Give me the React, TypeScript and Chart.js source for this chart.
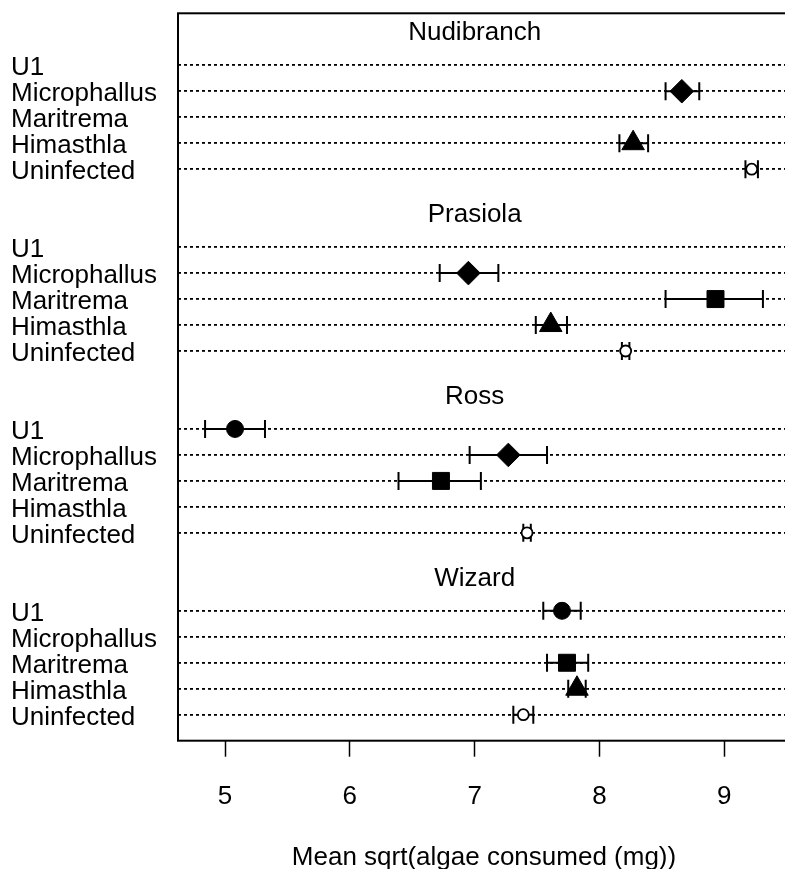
import { useEffect, useRef } from 'react';
import { Chart, registerables } from 'chart.js';

Chart.register(...registerables);

const sites = ['Nudibranch', 'Prasiola', 'Ross', 'Wizard'];
const infections = ['U1', 'Microphallus', 'Maritrema', 'Himasthla', 'Uninfected'];

// Mean and error-bar limits for each infection (same order as `infections`)
const nudibranchMean = [null, 8.66, null, 8.27, 9.22];
const nudibranchLow = [null, 8.53, null, 8.16, 9.17];
const nudibranchHigh = [null, 8.8, null, 8.39, 9.27];

const prasiolaMean = [null, 6.95, 8.93, 7.61, 8.21];
const prasiolaLow = [null, 6.72, 8.53, 7.49, 8.18];
const prasiolaHigh = [null, 7.19, 9.31, 7.74, 8.24];

const rossMean = [5.08, 7.27, 6.73, null, 7.42];
const rossLow = [4.84, 6.96, 6.39, null, 7.39];
const rossHigh = [5.32, 7.58, 7.05, null, 7.45];

const wizardMean = [7.7, null, 7.74, 7.82, 7.39];
const wizardLow = [7.55, null, 7.58, 7.75, 7.31];
const wizardHigh = [7.85, null, 7.91, 7.89, 7.47];

const xTicks = [5, 6, 7, 8, 9];
const xTitle = 'Mean sqrt(algae consumed (mg))';

const groupMeans = [nudibranchMean, prasiolaMean, rossMean, wizardMean];
const groupLows = [nudibranchLow, prasiolaLow, rossLow, wizardLow];
const groupHighs = [nudibranchHigh, prasiolaHigh, rossHigh, wizardHigh];

const FONT = '"Liberation Sans", Arial, Helvetica, sans-serif';
const GROUP_SPAN = infections.length + 2;
const Y_MAX = sites.length * GROUP_SPAN;

// dotchart layout: groups stacked top-down, one spare row + a title row between groups
const rowOf = (g: number, i: number) =>
  (sites.length - 1 - g) * GROUP_SPAN + (infections.length - i);
const titleRowOf = (g: number) => (sites.length - 1 - g) * GROUP_SPAN + infections.length + 1.25;

const rowValues: number[] = [];
const rowLabels = new Map<number, string>();
sites.forEach((_, g) =>
  infections.forEach((name, i) => {
    rowValues.push(rowOf(g, i));
    rowLabels.set(rowOf(g, i), name);
  })
);

// one marker style per infection
const markerStyles = [
  { pointStyle: 'circle', radius: 8.5, fill: '#000' },
  { pointStyle: 'rectRot', radius: 11.8, fill: '#000' },
  { pointStyle: 'rect', radius: 12, fill: '#000' },
  { pointStyle: 'triangle', radius: 13, fill: '#000' },
  { pointStyle: 'circle', radius: 5.5, fill: '#fff' },
];

const datasets = infections.map((name, i) => ({
  label: name,
  data: sites
    .map((_, g) => ({ x: groupMeans[g][i], y: rowOf(g, i) }))
    .filter((p) => p.x !== null),
  showLine: false,
  pointStyle: markerStyles[i].pointStyle,
  pointRadius: markerStyles[i].radius,
  pointBackgroundColor: markerStyles[i].fill,
  pointBorderColor: '#000',
  pointBorderWidth: i === 4 ? 1.8 : 1,
}));

const decorations = {
  id: 'dotchartDecorations',
  beforeDatasetsDraw(chart: any) {
    const { ctx, chartArea: a, scales } = chart;
    const x = scales.x;
    const y = scales.y;
    ctx.save();
    // plot frame
    ctx.strokeStyle = '#000';
    ctx.lineWidth = 2;
    ctx.setLineDash([]);
    ctx.strokeRect(a.left, a.top, a.right - a.left, a.bottom - a.top);

    // group titles
    ctx.fillStyle = '#000';
    ctx.font = `26px ${FONT}`;
    ctx.textAlign = 'center';
    ctx.textBaseline = 'middle';
    sites.forEach((s, g) => ctx.fillText(s, x.getPixelForValue(7), y.getPixelForValue(titleRowOf(g))));

    // error bars with end caps
    ctx.lineWidth = 2;
    const cap = 9;
    sites.forEach((_, g) =>
      infections.forEach((__, i) => {
        const lo = groupLows[g][i];
        const hi = groupHighs[g][i];
        if (lo === null || hi === null) return;
        const py = y.getPixelForValue(rowOf(g, i));
        const p0 = x.getPixelForValue(lo);
        const p1 = x.getPixelForValue(hi);
        ctx.beginPath();
        ctx.moveTo(p0, py);
        ctx.lineTo(p1, py);
        ctx.moveTo(p0, py - cap);
        ctx.lineTo(p0, py + cap);
        ctx.moveTo(p1, py - cap);
        ctx.lineTo(p1, py + cap);
        ctx.stroke();
      })
    );
    ctx.restore();
  },
};

export default function App() {
  const ref = useRef<HTMLCanvasElement>(null);

  useEffect(() => {
    document.body.style.margin = '0';
    const chart = new Chart(ref.current!, {
      type: 'scatter',
      data: { datasets: datasets as any },
      plugins: [decorations],
      options: {
        animation: false,
        responsive: false,
        devicePixelRatio: 1,
        events: [],
        layout: { autoPadding: false, padding: { left: 11, top: 13.3, right: 0, bottom: 0 } },
        plugins: {
          legend: { display: false },
          tooltip: { enabled: false },
        },
        scales: {
          x: {
            type: 'linear',
            min: 4.623,
            max: 9.527,
            bounds: 'data',
            afterBuildTicks: (scale: any) => {
              scale.ticks = xTicks.map((v) => ({ value: v }));
            },
            afterFit: (scale: any) => {
              scale.height = 869 - 740.7;
              scale.paddingLeft = 0;
              scale.paddingRight = 0;
            },
            grid: {
              drawOnChartArea: false,
              drawTicks: true,
              tickLength: 16,
              tickWidth: 1.5,
              tickColor: '#000',
              color: '#000',
            },
            border: { display: false },
            ticks: {
              color: '#000',
              padding: 25,
              autoSkip: false,
              maxRotation: 0,
              font: { family: FONT, size: 26 },
              callback: (v: any) => String(v),
            },
            title: {
              display: true,
              text: xTitle,
              color: '#000',
              font: { family: FONT, size: 26, lineHeight: 1 },
              padding: { top: 0, bottom: -2 },
            },
          },
          y: {
            type: 'linear',
            min: 0,
            max: Y_MAX,
            bounds: 'data',
            afterBuildTicks: (scale: any) => {
              scale.ticks = rowValues.map((v) => ({ value: v }));
            },
            afterFit: (scale: any) => {
              scale.width = 167;
              scale.paddingTop = 0;
              scale.paddingBottom = 0;
            },
            grid: {
              drawOnChartArea: true,
              drawTicks: false,
              color: '#000',
              lineWidth: 1.8,
            },
            border: { display: false, dash: [3, 3] },
            ticks: {
              color: '#000',
              crossAlign: 'far',
              autoSkip: false,
              labelOffset: 3,
              padding: 0,
              font: { family: FONT, size: 26 },
              callback: (v: any) => rowLabels.get(v) ?? '',
            },
          },
        },
      } as any,
    });
    return () => chart.destroy();
  }, []);

  return (
    <div
      style={{
        position: 'absolute',
        left: 0,
        top: 0,
        width: 785,
        height: 869,
        overflow: 'hidden',
        background: '#fff',
      }}
    >
      <canvas ref={ref} width={790} height={869} style={{ display: 'block', width: 790, height: 869 }} />
    </div>
  );
}
